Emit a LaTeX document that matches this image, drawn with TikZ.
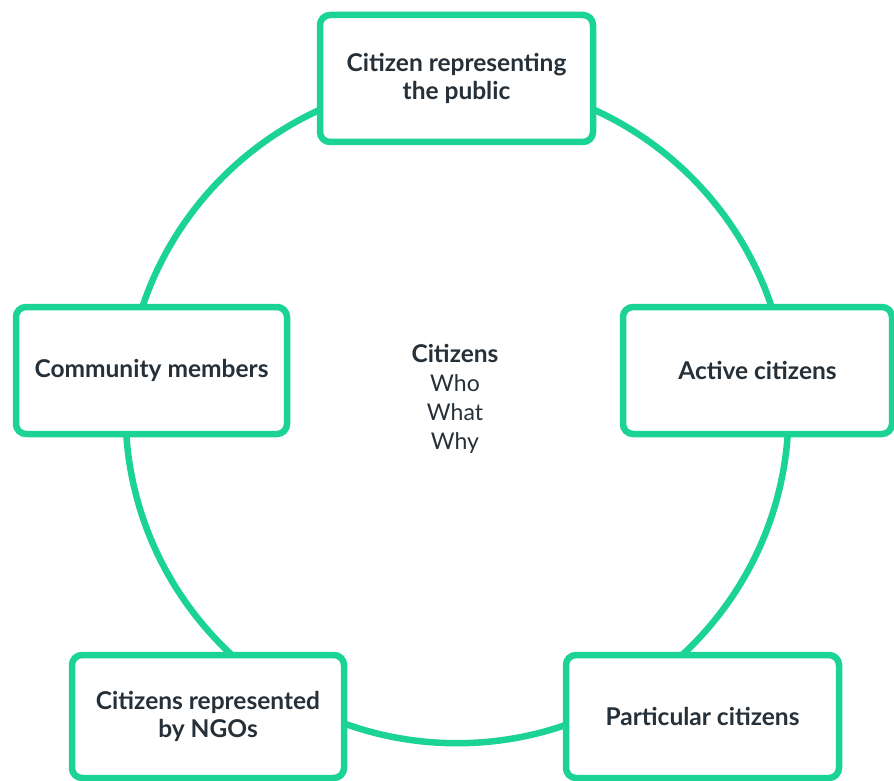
\documentclass[tikz,border=0pt]{standalone}
\usepackage{fontspec}
\setmainfont{Lato}
\definecolor{ringgreen}{RGB}{28,211,150}
\definecolor{inkdark}{RGB}{38,48,56}
\begin{document}
\begin{tikzpicture}[x=1pt,y=-1pt,
  ring/.style={draw=ringgreen,line width=6.5pt},
  rolebox/.style={draw=ringgreen,line width=6.5pt,fill=white,rounded corners=10pt,
    inner sep=0pt,align=center,text=inkdark,font=\fontsize{24.5}{28.5}\selectfont\bfseries},
  hubhead/.style={anchor=base,inner sep=0pt,text=inkdark,font=\fontsize{24.5}{29}\selectfont\bfseries},
  hubline/.style={anchor=base,inner sep=0pt,text=inkdark,font=\fontsize{23}{29}\selectfont}]
\useasboundingbox (0,0) rectangle (894,781);
% central ring
\coordinate (ctr) at (457,411.7);
\draw[ring] (ctr) circle[radius=331.5pt];
% role boxes placed on the ring
\node[rolebox,minimum width=273pt,minimum height=127pt] (top) at (456.5,78.5) {Citizen representing\\the public};
\node[rolebox,minimum width=271pt,minimum height=127pt] (left) at (151.5,370.5) {Community members};
\node[rolebox,minimum width=269pt,minimum height=127pt] (right) at (757.5,370.5) {Active citizens};
\node[rolebox,minimum width=272pt,minimum height=123pt] (botleft) at (208,716.5) {Citizens represented\\by NGOs};
\node[rolebox,minimum width=273pt,minimum height=123pt] (botright) at (702.5,716.5) {Particular citizens};
% centre label
\node[hubhead] (core) at (455,362) {Citizens};
\node[hubline] (who) at (455,391.5) {Who};
\node[hubline] (what) at (455,420.5) {What};
\node[hubline] (why) at (455,449.5) {Why};
\end{tikzpicture}
\end{document}
